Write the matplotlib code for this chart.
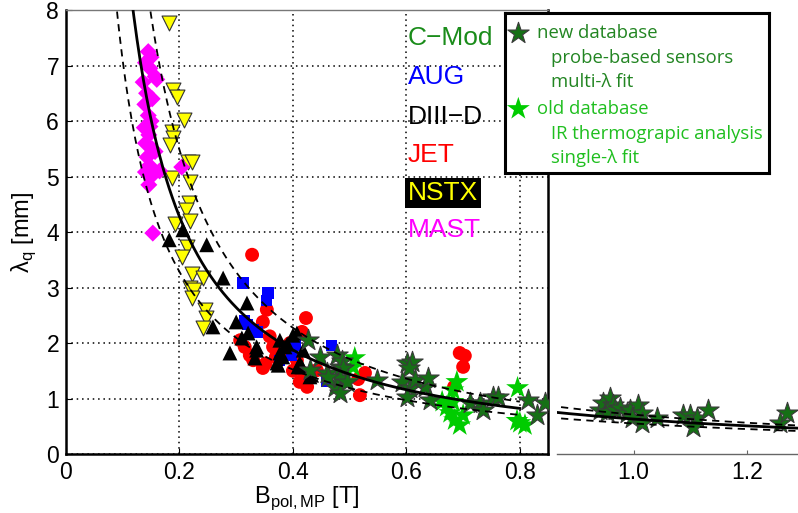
import numpy as np
import matplotlib
matplotlib.use("Agg")
import matplotlib.pyplot as plt

plt.rcParams['font.family'] = ['Liberation Sans', 'DejaVu Sans']
plt.rcParams['mathtext.fontset'] = 'custom'
plt.rcParams['mathtext.rm'] = 'Liberation Sans'

# ---- data: B_pol,MP [T], lambda_q [mm]
mast_b = [0.145, 0.150, 0.140, 0.148, 0.157, 0.136, 0.160, 0.142, 0.139, 0.145, 0.150, 0.138, 0.146,
          0.140, 0.152, 0.143, 0.157, 0.147, 0.140, 0.165, 0.204, 0.150, 0.146, 0.153, 0.148, 0.152]
mast_lq = [7.25, 7.15, 7.05, 6.95, 6.80, 6.70, 6.75, 6.50, 6.30, 6.10, 6.00, 5.88, 5.75,
           5.60, 5.50, 5.35, 5.45, 5.20, 5.08, 5.10, 5.17, 5.00, 4.85, 3.98, 5.90, 6.40]

nstx_b = [0.181, 0.189, 0.195, 0.208, 0.187, 0.188, 0.183, 0.215, 0.222, 0.187, 0.218, 0.217, 0.211,
          0.218, 0.192, 0.213, 0.205, 0.222, 0.241, 0.218, 0.226, 0.222, 0.245, 0.247, 0.241]
nstx_lq = [7.77, 6.56, 6.43, 6.02, 5.80, 5.69, 5.57, 5.26, 5.26, 4.97, 4.90, 4.52, 4.40,
           4.20, 4.15, 3.73, 3.55, 3.25, 3.17, 2.99, 2.95, 2.81, 2.60, 2.45, 2.27]

d3d_b = [0.182, 0.206, 0.248, 0.277, 0.319, 0.300, 0.259, 0.321, 0.310, 0.289, 0.336, 0.333, 0.336, 0.372,
         0.377, 0.386, 0.400, 0.377, 0.382, 0.409, 0.374, 0.407, 0.418, 0.412, 0.430, 0.433, 0.416, 0.390]
d3d_lq = [3.86, 4.04, 3.77, 3.17, 2.72, 2.38, 2.29, 2.18, 2.09, 1.82, 1.93, 1.73, 1.87, 1.64,
          2.05, 1.93, 2.14, 1.82, 1.75, 1.57, 1.60, 2.18, 1.87, 1.64, 1.39, 1.42, 1.57, 1.98]

aug_b = [0.312, 0.356, 0.354, 0.315, 0.320, 0.330, 0.338, 0.377, 0.405, 0.468, 0.460, 0.398]
aug_lq = [3.08, 2.90, 2.77, 2.41, 2.33, 2.25, 2.20, 1.69, 1.96, 1.96, 1.30, 1.78]

jet_b = [0.328, 0.354, 0.347, 0.359, 0.365, 0.315, 0.307, 0.324, 0.330, 0.347, 0.352, 0.382, 0.370, 0.390,
         0.423, 0.416, 0.407, 0.412, 0.425, 0.442, 0.420, 0.518, 0.527, 0.515, 0.694, 0.703, 0.700, 0.684,
         0.395, 0.400]
jet_lq = [3.59, 2.60, 2.38, 2.12, 1.93, 1.93, 2.05, 1.78, 1.69, 1.55, 1.63, 1.93, 1.75, 1.80,
          2.45, 2.20, 1.69, 1.30, 1.21, 1.51, 1.45, 1.06, 1.46, 1.35, 1.82, 1.77, 1.57, 1.21,
          2.00, 1.50]

cmod_old_b = [0.509, 0.506, 0.495, 0.689, 0.682, 0.663, 0.682, 0.671, 0.677, 0.685, 0.694, 0.796,
              0.800, 0.809, 0.700, 0.795]
cmod_old_lq = [1.73, 1.57, 1.30, 1.30, 1.15, 0.94, 0.94, 0.85, 0.74, 0.61, 0.52, 1.19,
               0.56, 0.52, 0.70, 0.60]

cmod_new_b = [0.426, 0.448, 0.477, 0.430, 0.460, 0.483, 0.474, 0.486, 0.488, 0.483, 0.495, 0.462, 0.483,
              0.548, 0.601, 0.610, 0.605, 0.592, 0.606, 0.615, 0.633, 0.638, 0.601, 0.641, 0.712, 0.730,
              0.735, 0.752, 0.761, 0.814, 0.830, 0.844,
              0.941, 0.946, 0.959, 0.964, 0.953, 0.968, 0.976, 0.989, 0.994, 1.008, 1.015, 0.997, 1.015,
              1.041, 1.087, 1.100, 1.112, 1.105, 1.131, 1.258, 1.270]
cmod_new_lq = [2.05, 1.75, 1.78, 1.51, 1.46, 1.57, 1.21, 1.68, 1.55, 1.37, 1.30, 1.39, 1.10,
               1.33, 1.64, 1.66, 1.55, 1.30, 1.19, 1.33, 1.21, 1.37, 1.03, 0.98, 0.92, 0.92,
               0.79, 1.03, 1.03, 0.97, 0.70, 0.92,
               0.79, 0.92, 1.01, 0.88, 0.76, 0.79, 0.83, 0.74, 0.79, 0.88, 0.74, 0.65, 0.56,
               0.65, 0.70, 0.70, 0.65, 0.49, 0.79, 0.56, 0.74]

# regression lambda_q = C * B^-a, with the two bounding curves
fit_c, fit_a = 0.63, 1.19
up_c, up_a = 0.71, 1.27
lo_c, lo_a = 0.55, 1.11

machines = ['C\u2212Mod', 'AUG', 'DIII\u2212D', 'JET', 'NSTX', 'MAST']
machine_colors = ['#1a8c1a', '#0000ff', 'black', '#ff0000', '#ffff00', '#ff00ff']
machine_y = [7.5, 6.8, 6.07, 5.38, 4.7, 4.03]

x_ticks = [0, 0.2, 0.4, 0.6, 0.8]
x_ticklabels = ['0', '0.2', '0.4', '0.6', '0.8']
x2_ticks = [1.0, 1.2]
x2_ticklabels = ['1.0', '1.2']
y_ticks = [0, 1, 2, 3, 4, 5, 6, 7, 8]

fig = plt.figure(figsize=(7.98, 5.13), dpi=100)
ax = fig.add_axes([0.0827, 0.115, 0.6043, 0.8655])
ax2 = fig.add_axes([0.698, 0.115, 0.302, 0.8655])

dark_star = dict(marker='*', s=260, c='#157015', edgecolors='#3a3a3a', linewidths=0.8)
lite_star = dict(marker='*', s=300, c='#00cc00', edgecolors='none')


def draw_fits(a, b):
    a.plot(b, fit_c * b ** -fit_a, color='black', lw=2.0, zorder=10)
    a.plot(b, up_c * b ** -up_a, color='black', lw=1.3, ls=(0, (4, 3)), zorder=10)
    a.plot(b, lo_c * b ** -lo_a, color='black', lw=1.3, ls=(0, (4, 3)), zorder=10)


ax.scatter(jet_b, jet_lq, marker='o', s=100, c='#ff0000', edgecolors='none', zorder=3)
ax.scatter(aug_b, aug_lq, marker='s', s=65, c='#0000ff', edgecolors='none', zorder=4)
ax.scatter(d3d_b, d3d_lq, marker='^', s=115, c='black', edgecolors='none', zorder=5)
ax.scatter(nstx_b, nstx_lq, marker='v', s=115, c='#ffff00', edgecolors='#333333', linewidths=0.8, zorder=6)
ax.scatter(mast_b, mast_lq, marker='D', s=75, c='#ff00ff', edgecolors='none', zorder=6)
ax.scatter(cmod_old_b, cmod_old_lq, zorder=7, **lite_star)
ax.scatter(cmod_new_b, cmod_new_lq, zorder=8, **dark_star)
draw_fits(ax, np.linspace(0.05, 0.8, 400))

ax.set_xlim(0, 0.85)
ax.set_ylim(0, 8)
ax.set_xticks(x_ticks)
ax.set_xticklabels(x_ticklabels)
ax.set_yticks(y_ticks)
ax.tick_params(direction='in', length=4, labelsize=16.5, pad=5)
ax.grid(True, color='black', ls=(0, (1, 2.5)), lw=1.1)
for side in ['left', 'bottom', 'right']:
    ax.spines[side].set_linewidth(1.8)
ax.spines['top'].set_linewidth(1.0)
ax.spines['top'].set_color('#777777')
ax.set_xlabel('B$_\\mathregular{pol,MP}$ [T]', fontsize=17, labelpad=0)
ax.set_ylabel('\u03bb$_\\mathregular{q}$ [mm]', fontsize=17, labelpad=6)

for name, col, yy in zip(machines, machine_colors, machine_y):
    box = dict(facecolor='black', edgecolor='none', pad=2) if name == 'NSTX' else None
    ax.text(0.603, yy, name, color=col, fontsize=19, va='center', ha='left', bbox=box, zorder=12)

# continuation of the abscissa beyond the frame
ax2.scatter(cmod_new_b, cmod_new_lq, zorder=8, **dark_star)
draw_fits(ax2, np.linspace(0.85, 1.3, 200))
ax2.set_xlim(0.865, 1.29)
ax2.set_ylim(0, 8)
ax2.patch.set_alpha(0)
for side in ['left', 'top', 'right']:
    ax2.spines[side].set_visible(False)
ax2.spines['bottom'].set_color('#666666')
ax2.spines['bottom'].set_linewidth(1.0)
ax2.set_yticks([])
ax2.set_xticks(x2_ticks)
ax2.set_xticklabels(x2_ticklabels)
ax2.tick_params(axis='x', direction='in', length=3, color='#666666', labelsize=16.5, pad=5)

# legend box
lg = fig.add_axes([0.633, 0.663, 0.331, 0.312])
lg.set_xlim(0, 1)
lg.set_ylim(0, 1)
lg.set_xticks([])
lg.set_yticks([])
for sp in lg.spines.values():
    sp.set_linewidth(2.2)
lg.scatter([0.05], [0.875], **dark_star)
lg.scatter([0.05], [0.40], **lite_star)
new_col = '#228522'
old_col = '#1fbf1f'
lg_font = ['Open Sans', 'DejaVu Sans']
fs = 13.3
lg.text(0.12, 0.875, 'new database', color=new_col, fontsize=fs, va='center', family=lg_font)
lg.text(0.175, 0.72, 'probe-based sensors', color=new_col, fontsize=fs, va='center', family=lg_font)
lg.text(0.175, 0.565, 'multi-\u03bb fit', color=new_col, fontsize=fs, va='center', family=lg_font)
lg.text(0.12, 0.40, 'old database', color=old_col, fontsize=fs, va='center', family=lg_font)
lg.text(0.175, 0.245, 'IR thermograpic analysis', color=old_col, fontsize=fs, va='center', family=lg_font)
lg.text(0.175, 0.09, 'single-\u03bb fit', color=old_col, fontsize=fs, va='center', family=lg_font)

fig.savefig('out.png', dpi=100)
